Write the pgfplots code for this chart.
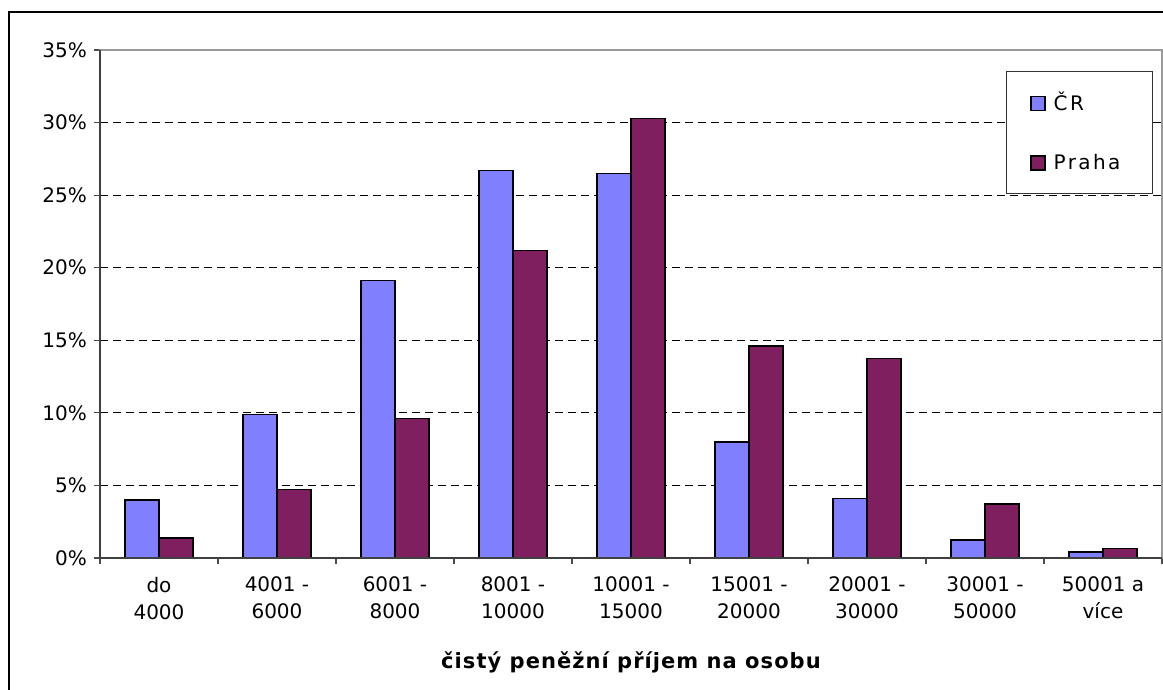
\documentclass[border=0pt]{standalone}
\usepackage{fontspec}
\setmainfont{DejaVu Sans}
\usepackage{pgfplots}
\pgfplotsset{compat=1.18}

\definecolor{crblue}{HTML}{8080FF}
\definecolor{praha}{HTML}{7F1F5F}

\begin{document}
\begin{tikzpicture}[x=1pt,y=1pt]
% page size: 1163 x 690 px at 0.5pt per px, axis origin at px (100,558)
\path[use as bounding box] (-50,-66) rectangle (531.5,279);
\draw[line width=1pt] (-45.5,-66) -- (-45.5,273) -- (531.5,273);
\begin{axis}[
    at={(0,0)}, anchor=south west,
    scale only axis,
    width=531pt, height=254pt,
    ybar=0pt, bar width=17pt,
    xmin=-0.5, xmax=8.5,
    ymin=0, ymax=35,
    xtick={0,...,8},
    xticklabels={do\\4000, 4001 -\\6000, 6001 -\\8000, 8001 -\\10000, 10001 -\\15000,
                 15001 -\\20000, 20001 -\\30000, 30001 -\\50000, 50001 a\\více},
    minor xtick={-0.5,0.5,...,8.5},
    major x tick style={draw=none},
    xtick pos=bottom, ytick pos=left,
    ytick={0,5,...,35},
    yticklabel={\pgfmathprintnumber{\tick}\%},
    /pgf/number format/assume math mode=true,
    tick align=outside,
    major tick length=3pt, minor tick length=3pt,
    tick style={black!70, line width=0.6pt},
    ymajorgrids,
    grid style={black, line width=0.5pt, dash pattern=on 4pt off 2.5pt},
    axis line style={draw=gray!80, line width=0.8pt},
    tick label style={font=\fontsize{10}{13.5}\selectfont},
    xticklabel style={align=center, yshift=-3pt},
    xlabel={čistý peněžní příjem na osobu},
    xlabel style={at={(rel axis cs:0.5,0)}, anchor=center, yshift=-52pt,
                  font=\fontsize{10.5}{12}\selectfont\bfseries\addfontfeature{LetterSpace=5}},
    legend style={at={(rel axis cs:0.853,0.959)}, anchor=north west,
                  draw=black!80, line width=0.6pt, fill=white,
                  font=\fontsize{10}{11}\selectfont\addfontfeature{LetterSpace=12},
                  inner xsep=12pt, inner ysep=8.5pt, row sep=16pt,
                  legend cell align=left,
                  nodes={inner xsep=4pt}},
    legend image code/.code={\draw[#1, line width=0.6pt] (0pt,-3.5pt) rectangle (7pt,3.5pt);},
    clip=false,
]
\addplot[fill=crblue, draw=black, line width=0.7pt] coordinates {
    (0,4.0) (1,9.9) (2,19.1) (3,26.7) (4,26.5) (5,8.0) (6,4.1) (7,1.24) (8,0.41)
};
\addplot[fill=praha, draw=black, line width=0.7pt] coordinates {
    (0,1.38) (1,4.7) (2,9.63) (3,21.2) (4,30.3) (5,14.6) (6,13.76) (7,3.72) (8,0.67)
};
\draw[black!75, line width=0.8pt] (rel axis cs:0,1) -- (rel axis cs:0,0) -- (rel axis cs:1,0);
\legend{ČR, Praha}
\end{axis}
\end{tikzpicture}
\end{document}
